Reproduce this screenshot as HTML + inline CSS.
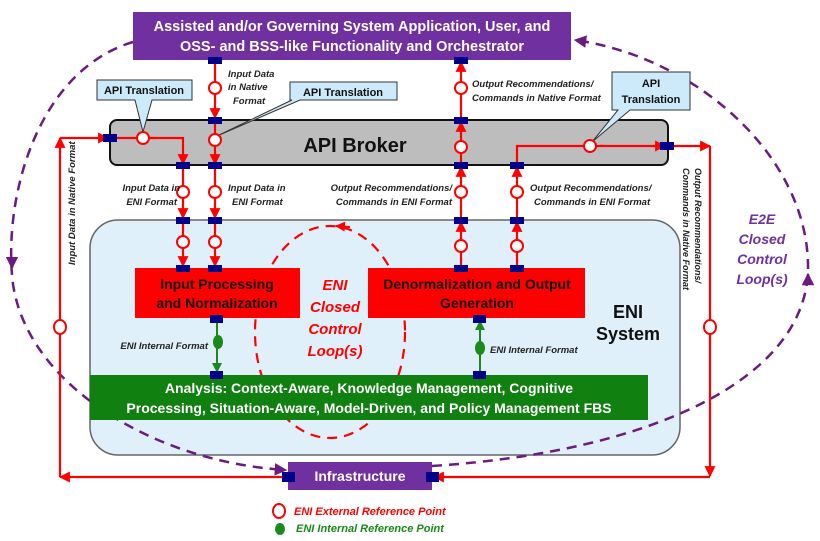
<!DOCTYPE html>
<html><head><meta charset="utf-8"><style>body{margin:0;background:#fff}svg{display:block}text{font-family:"Liberation Sans",sans-serif}</style></head><body>
<svg width="820" height="541" viewBox="0 0 820 541" xmlns="http://www.w3.org/2000/svg">
<defs>
<marker id="ar" viewBox="0 0 10 10" refX="9" refY="5" markerWidth="5" markerHeight="5" orient="auto"><path d="M0,0L10,5L0,10z" fill="#f00"/></marker>
<marker id="ag" viewBox="0 0 10 10" refX="9" refY="5" markerWidth="5" markerHeight="5" orient="auto"><path d="M0,0L10,5L0,10z" fill="#1a8a1a"/></marker>
<marker id="ap" viewBox="0 0 10 10" refX="9" refY="5" markerWidth="5" markerHeight="5" orient="auto"><path d="M0,0L10,5L0,10z" fill="#6a1a80"/></marker>
</defs>
<rect x="90" y="220" width="590" height="235" rx="28" fill="#dff0fa" stroke="#666" stroke-width="1.5"/>
<path d="M133,42 C40,70 5,190 12,275 C20,380 150,462 286,470" fill="none" stroke="#6a1a80" stroke-width="2.5" stroke-dasharray="10,7" marker-end="url(#ap)"/>
<path d="M432,466 C650,452 805,380 808,270 C810,160 700,58 575,40" fill="none" stroke="#6a1a80" stroke-width="2.5" stroke-dasharray="10,7" marker-end="url(#ap)"/>
<path d="M12,262 L12,268" stroke="#6a1a80" stroke-width="2.5" marker-end="url(#ap)"/>
<path d="M808,282 L808,274" stroke="#6a1a80" stroke-width="2.5" marker-end="url(#ap)"/>
<ellipse cx="330" cy="332" rx="75" ry="106" fill="none" stroke="#f00" stroke-width="2.2" stroke-dasharray="10,7"/>
<path d="M350,227 L336,226" stroke="#f00" stroke-width="2" marker-end="url(#ar)"/>
<rect x="133" y="12" width="438" height="48" fill="#7030a0"/>
<text x="352" y="31" text-anchor="middle" fill="#fff" font-size="14.5" font-weight="bold">Assisted and/or Governing System Application, User, and</text>
<text x="352" y="51" text-anchor="middle" fill="#fff" font-size="14.5" font-weight="bold">OSS- and BSS-like Functionality and Orchestrator</text>
<rect x="110" y="120" width="558" height="45" rx="7" fill="#bdbdbd" stroke="#111" stroke-width="2"/>
<text x="355" y="152" text-anchor="middle" font-size="20" font-weight="bold" fill="#111">API Broker</text>
<g stroke="#f00" stroke-width="2.2" fill="none">
<path d="M215,60 L215,118" marker-end="url(#ar)"/>
<path d="M215,120 L215,164" marker-end="url(#ar)"/>
<path d="M215,165 L215,218" marker-end="url(#ar)"/>
<path d="M215,220 L215,266" marker-end="url(#ar)"/>
<path d="M110,138 L183,138 L183,164" marker-end="url(#ar)"/>
<path d="M183,165 L183,218" marker-end="url(#ar)"/>
<path d="M183,220 L183,266" marker-end="url(#ar)"/>
<path d="M461,268 L461,222" marker-end="url(#ar)"/>
<path d="M461,220 L461,167" marker-end="url(#ar)"/>
<path d="M461,165 L461,122" marker-end="url(#ar)"/>
<path d="M461,120 L461,62" marker-end="url(#ar)"/>
<path d="M517,268 L517,222" marker-end="url(#ar)"/>
<path d="M517,220 L517,167" marker-end="url(#ar)"/>
<path d="M517,165 L517,146 L665,146" marker-end="url(#ar)"/>
<path d="M668,146 L710,146" marker-end="url(#ar)"/>
<path d="M710,146 L710,476" marker-end="url(#ar)"/>
<path d="M710,477 L434,477" marker-end="url(#ar)"/>
<path d="M288,477 L60,477" marker-end="url(#ar)"/>
<path d="M60,477 L60,138" marker-end="url(#ar)"/>
<path d="M60,138 L108,138" marker-end="url(#ar)"/>
</g>
<g fill="#cdeafa" stroke="#333" stroke-width="1">
<path d="M97,80 H192 V100 H152 L143,132 L135,100 H97 Z"/>
<path d="M290,82 H397 V100 H300 L217,136 L292,100 H290 Z"/>
<path d="M612,72 H690 V110 H630 L592,142 L618,110 H612 Z"/>
</g>
<g font-size="11" font-weight="bold" text-anchor="middle" fill="#111">
<text x="144" y="94">API Translation</text>
<text x="343" y="96">API Translation</text>
<text x="651" y="87">API</text><text x="651" y="103">Translation</text>
</g>
<rect x="135" y="268" width="165" height="50" fill="#f00"/>
<text x="217" y="289" text-anchor="middle" font-size="14" font-weight="bold" fill="#111">Input Processing</text>
<text x="217" y="308" text-anchor="middle" font-size="14" font-weight="bold" fill="#111">and Normalization</text>
<rect x="368" y="268" width="217" height="50" fill="#f00"/>
<text x="477" y="289" text-anchor="middle" font-size="14" font-weight="bold" fill="#111">Denormalization and Output</text>
<text x="477" y="308" text-anchor="middle" font-size="14" font-weight="bold" fill="#111">Generation</text>
<rect x="90" y="375" width="558" height="45" fill="#108010"/>
<text x="369" y="393" text-anchor="middle" font-size="14" font-weight="bold" fill="#fff">Analysis:  Context-Aware,  Knowledge Management, Cognitive</text>
<text x="369" y="413" text-anchor="middle" font-size="14" font-weight="bold" fill="#fff">Processing, Situation-Aware, Model-Driven, and Policy Management FBS</text>
<g stroke="#1a8a1a" stroke-width="2"><path d="M217,318 L217,372" marker-end="url(#ag)"/><path d="M480,375 L480,321" marker-end="url(#ag)"/></g>
<ellipse cx="218" cy="342" rx="5" ry="7" fill="#1a8a1a"/>
<ellipse cx="480" cy="348" rx="5" ry="7" fill="#1a8a1a"/>
<rect x="288" y="462" width="144" height="28" fill="#7030a0"/>
<text x="360" y="481" text-anchor="middle" font-size="14" font-weight="bold" fill="#fff">Infrastructure</text>
<g fill="#fff" stroke="#f00" stroke-width="2">
<circle cx="215" cy="88" r="6"/><circle cx="461" cy="88" r="6"/>
<circle cx="143" cy="138" r="6"/><circle cx="215" cy="140" r="6"/><circle cx="461" cy="147" r="6"/><circle cx="590" cy="146" r="6"/>
<circle cx="183" cy="192" r="6"/><circle cx="215" cy="192" r="6"/><circle cx="461" cy="192" r="6"/><circle cx="517" cy="192" r="6"/>
<circle cx="183" cy="242" r="6"/><circle cx="215" cy="242" r="6"/><circle cx="461" cy="246" r="6"/><circle cx="517" cy="246" r="6"/>
<ellipse cx="60" cy="327" rx="6" ry="7"/><ellipse cx="710" cy="327" rx="6" ry="7"/>
</g>
<g fill="#00008b">
<rect x="208" y="57" width="14" height="7"/><rect x="454" y="57" width="14" height="7"/>
<rect x="208" y="117" width="14" height="7"/><rect x="454" y="117" width="14" height="7"/>
<rect x="176" y="162" width="14" height="7"/><rect x="208" y="162" width="14" height="7"/><rect x="454" y="162" width="14" height="7"/><rect x="510" y="162" width="14" height="7"/>
<rect x="176" y="217" width="14" height="7"/><rect x="208" y="217" width="14" height="7"/><rect x="454" y="217" width="14" height="7"/><rect x="510" y="217" width="14" height="7"/>
<rect x="176" y="265" width="14" height="7"/><rect x="208" y="265" width="14" height="7"/><rect x="454" y="265" width="14" height="7"/><rect x="510" y="265" width="14" height="7"/>
<rect x="103" y="134" width="14" height="8"/><rect x="660" y="142" width="14" height="8"/>
<rect x="210" y="315" width="13" height="8"/><rect x="473" y="315" width="13" height="8"/>
<rect x="210" y="371" width="13" height="8"/><rect x="473" y="371" width="13" height="8"/>
<rect x="282" y="472" width="13" height="10"/><rect x="426" y="472" width="13" height="10"/>
</g>
<g font-size="9.5" font-style="italic" fill="#222" font-weight="bold">
<text x="228" y="77">Input Data</text><text x="228" y="90">in Native</text><text x="233" y="104">Format</text>
<text x="472" y="87">Output Recommendations/</text><text x="472" y="101">Commands in Native Format</text>
<text x="180" y="191" text-anchor="end">Input Data in</text><text x="177" y="205" text-anchor="end">ENI Format</text>
<text x="228" y="191">Input Data in</text><text x="232" y="205">ENI Format</text>
<text x="452" y="191" text-anchor="end">Output Recommendations/</text><text x="452" y="205" text-anchor="end">Commands in ENI Format</text>
<text x="530" y="191">Output Recommendations/</text><text x="534" y="205">Commands in ENI Format</text>
<text x="208" y="349" text-anchor="end">ENI Internal Format</text>
<text x="490" y="353">ENI Internal Format</text>
<text transform="translate(75,265) rotate(-90)">Input Data in Native  Format</text>
</g>
<g font-size="9" font-style="italic" fill="#222" font-weight="bold">
<text transform="translate(695,168) rotate(90)">Output Recommendations/</text>
<text transform="translate(683,168) rotate(90)">Commands in Native Format</text>
</g>
<g font-size="15" font-style="italic" font-weight="bold" fill="#f00" text-anchor="middle">
<text x="335" y="290">ENI</text><text x="335" y="312">Closed</text><text x="335" y="334">Control</text><text x="335" y="356">Loop(s)</text>
</g>
<g font-size="14" font-style="italic" font-weight="bold" fill="#7030a0" text-anchor="middle">
<text x="762" y="224">E2E</text><text x="762" y="244">Closed</text><text x="762" y="264">Control</text><text x="762" y="284">Loop(s)</text>
</g>
<text x="628" y="318" text-anchor="middle" font-size="18" font-weight="bold" fill="#111">ENI</text>
<text x="628" y="340" text-anchor="middle" font-size="18" font-weight="bold" fill="#111">System</text>
<ellipse cx="279" cy="511" rx="6" ry="7" fill="#fff" stroke="#f00" stroke-width="2"/>
<text x="294" y="515" font-size="11" font-style="italic" font-weight="bold" fill="#f00">ENI External Reference Point</text>
<ellipse cx="280" cy="529" rx="5" ry="6" fill="#1a8a1a"/>
<text x="296" y="532" font-size="11" font-style="italic" font-weight="bold" fill="#1a8a1a">ENI Internal Reference Point</text>
</svg>
</body></html>
